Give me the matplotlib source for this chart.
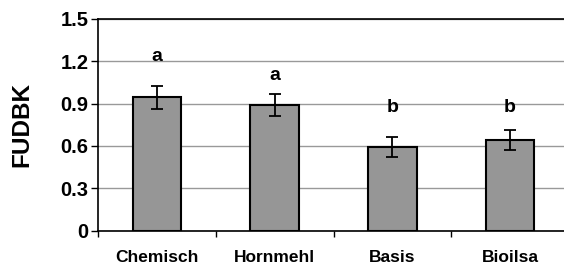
import matplotlib
matplotlib.use("Agg")
import matplotlib.pyplot as plt
import numpy as np

categories = ["Chemisch", "Hornmehl", "Basis", "Bioilsa"]
values = [0.945, 0.89, 0.59, 0.64]
errors = [0.08, 0.08, 0.07, 0.07]
letters = ["a", "a", "b", "b"]
letter_y = [1.235, 1.10, 0.875, 0.875]
yticks = [0, 0.3, 0.6, 0.9, 1.2, 1.5]
ytick_labels = ["0", "0.3", "0.6", "0.9", "1.2", "1.5"]

plt.rcParams['font.family'] = ['Liberation Sans', 'DejaVu Sans']
plt.rcParams['font.weight'] = 'bold'

fig = plt.figure(figsize=(5.64, 2.66), dpi=100)
ax = fig.add_axes([98/564, 1-230.5/266, 471/564, 211.5/266])

x = np.arange(len(categories))
ax.bar(x, values, width=0.41, color="#969696", edgecolor="black", linewidth=1.5, zorder=3)
ax.errorbar(x, values, yerr=errors, fmt="none", ecolor="black", elinewidth=1.3,
            capsize=4.5, capthick=1.3, zorder=4)
for xi, l, ly in zip(x, letters, letter_y):
    ax.text(xi, ly, l, ha="center", va="center", fontsize=14, fontweight="bold")

ax.set_xlim(-0.5, len(categories) - 0.5)
ax.set_ylim(0, 1.5)
ax.set_yticks(yticks)
ax.set_yticklabels(ytick_labels, fontsize=14.5, fontweight="bold")
ax.set_xticks(x)
ax.set_xticklabels(categories, fontsize=12.5, fontweight="bold")
ax.set_xticks(np.arange(-0.5, len(categories), 1), minor=True)
ax.tick_params(axis="x", which="major", length=0, pad=14)
ax.tick_params(axis="x", which="minor", length=4, width=1, direction="out")
ax.tick_params(axis="y", length=5, width=1, direction="out", pad=2)
ax.yaxis.grid(True, color="#999999", linewidth=1, zorder=0)
ax.set_axisbelow(True)
for s in ["left", "bottom", "top"]:
    ax.spines[s].set_linewidth(1.2)
    ax.spines[s].set_color("black")
ax.spines["right"].set_visible(False)
ax.set_ylabel("FUDBK", fontsize=17.5, fontweight="bold")
ax.yaxis.set_label_coords(-(98-33)/471, 0.5)

fig.savefig("out.png", dpi=100)
